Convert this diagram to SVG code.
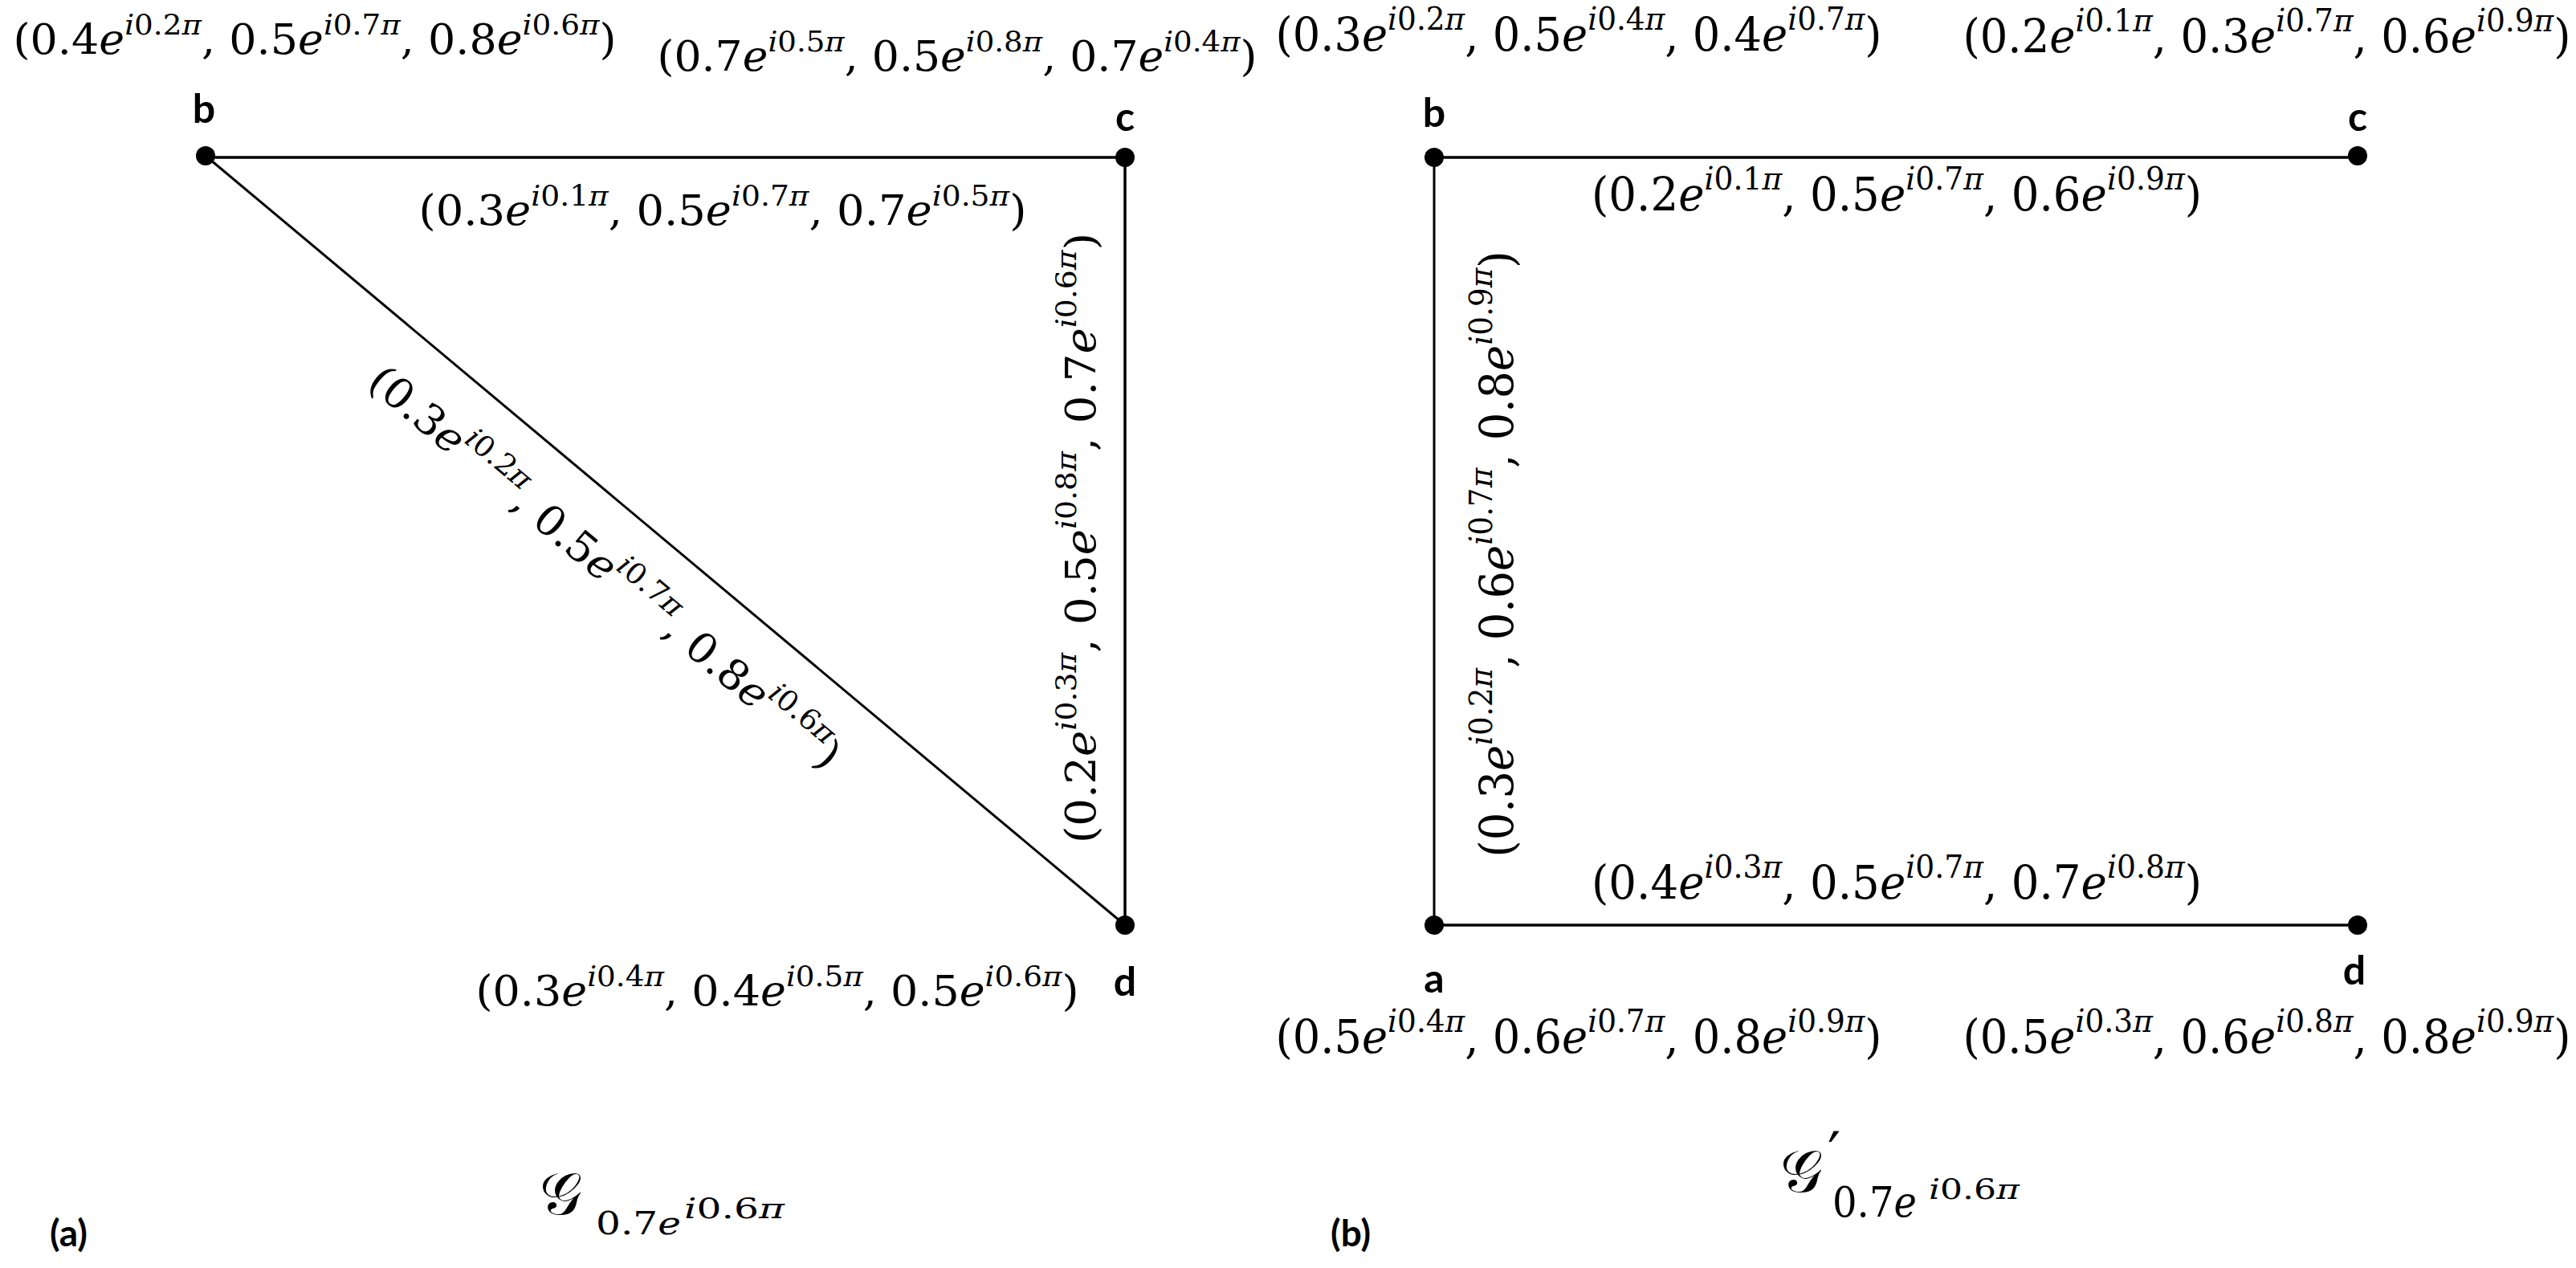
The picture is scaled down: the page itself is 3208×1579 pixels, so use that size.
<svg xmlns="http://www.w3.org/2000/svg" width="3208" height="1579" viewBox="0 0 3208 1579">
<style>
.m{font-family:"DejaVu Serif","Liberation Serif",serif;font-size:52px;fill:#000}
.r{font-size:58px}
.s{font-size:36px}
.r .s{font-size:40px}
.i{font-style:italic}
.n{font-family:Lato,"Liberation Sans",sans-serif;font-weight:bold;font-size:50px;fill:#000;text-anchor:middle}
.e{stroke:#000;stroke-width:3.5;fill:none}
.d{fill:#000}
.c{font-family:"DejaVu Serif","Liberation Serif",serif;fill:#000}
</style>
<rect width="3208" height="1579" fill="#fff"/>
<g id="connectors">
<line class="e" x1="256" y1="196" x2="1401" y2="196"/>
<line class="e" x1="1401" y1="196" x2="1401" y2="1152"/>
<line class="e" x1="256" y1="194" x2="1401" y2="1152" style="stroke-width:3"/>
<line class="e" x1="1786" y1="196" x2="2936" y2="196"/>
<line class="e" x1="1786" y1="196" x2="1786" y2="1152" style="stroke-width:3"/>
<line class="e" x1="1786" y1="1152" x2="2936" y2="1152"/>
</g>
<g id="edge-labels">
<text class="m" text-anchor="middle" x="900" y="280" textLength="757" lengthAdjust="spacingAndGlyphs">(0.3<tspan class="i">e</tspan><tspan class="s" dy="-24"><tspan class="i">i</tspan>0.1<tspan class="i">π</tspan></tspan><tspan dy="24">, 0.5</tspan><tspan class="i">e</tspan><tspan class="s" dy="-24"><tspan class="i">i</tspan>0.7<tspan class="i">π</tspan></tspan><tspan dy="24">, 0.7</tspan><tspan class="i">e</tspan><tspan class="s" dy="-24"><tspan class="i">i</tspan>0.5<tspan class="i">π</tspan></tspan><tspan dy="24">)</tspan></text>
<text class="m" text-anchor="middle" transform="translate(742,720) rotate(40)" textLength="748" lengthAdjust="spacingAndGlyphs">(0.3<tspan class="i">e</tspan><tspan class="s" dy="-24"><tspan class="i">i</tspan>0.2<tspan class="i">π</tspan></tspan><tspan dy="24">, 0.5</tspan><tspan class="i">e</tspan><tspan class="s" dy="-24"><tspan class="i">i</tspan>0.7<tspan class="i">π</tspan></tspan><tspan dy="24">, 0.8</tspan><tspan class="i">e</tspan><tspan class="s" dy="-24"><tspan class="i">i</tspan>0.6<tspan class="i">π</tspan></tspan><tspan dy="24">)</tspan></text>
<text class="m" text-anchor="middle" transform="translate(1364,670) rotate(-90)" textLength="760" lengthAdjust="spacingAndGlyphs">(0.2<tspan class="i">e</tspan><tspan class="s" dy="-24"><tspan class="i">i</tspan>0.3<tspan class="i">π</tspan></tspan><tspan dy="24">, 0.5</tspan><tspan class="i">e</tspan><tspan class="s" dy="-24"><tspan class="i">i</tspan>0.8<tspan class="i">π</tspan></tspan><tspan dy="24">, 0.7</tspan><tspan class="i">e</tspan><tspan class="s" dy="-24"><tspan class="i">i</tspan>0.6<tspan class="i">π</tspan></tspan><tspan dy="24">)</tspan></text>
<text class="m r" text-anchor="middle" x="2362" y="262" textLength="760" lengthAdjust="spacingAndGlyphs">(0.2<tspan class="i">e</tspan><tspan class="s" dy="-26"><tspan class="i">i</tspan>0.1<tspan class="i">π</tspan></tspan><tspan dy="26">, 0.5</tspan><tspan class="i">e</tspan><tspan class="s" dy="-26"><tspan class="i">i</tspan>0.7<tspan class="i">π</tspan></tspan><tspan dy="26">, 0.6</tspan><tspan class="i">e</tspan><tspan class="s" dy="-26"><tspan class="i">i</tspan>0.9<tspan class="i">π</tspan></tspan><tspan dy="26">)</tspan></text>
<text class="m r" text-anchor="middle" transform="translate(1884,690) rotate(-90)" textLength="755" lengthAdjust="spacingAndGlyphs">(0.3<tspan class="i">e</tspan><tspan class="s" dy="-26"><tspan class="i">i</tspan>0.2<tspan class="i">π</tspan></tspan><tspan dy="26">, 0.6</tspan><tspan class="i">e</tspan><tspan class="s" dy="-26"><tspan class="i">i</tspan>0.7<tspan class="i">π</tspan></tspan><tspan dy="26">, 0.8</tspan><tspan class="i">e</tspan><tspan class="s" dy="-26"><tspan class="i">i</tspan>0.9<tspan class="i">π</tspan></tspan><tspan dy="26">)</tspan></text>
<text class="m r" text-anchor="middle" x="2362" y="1119" textLength="760" lengthAdjust="spacingAndGlyphs">(0.4<tspan class="i">e</tspan><tspan class="s" dy="-26"><tspan class="i">i</tspan>0.3<tspan class="i">π</tspan></tspan><tspan dy="26">, 0.5</tspan><tspan class="i">e</tspan><tspan class="s" dy="-26"><tspan class="i">i</tspan>0.7<tspan class="i">π</tspan></tspan><tspan dy="26">, 0.7</tspan><tspan class="i">e</tspan><tspan class="s" dy="-26"><tspan class="i">i</tspan>0.8<tspan class="i">π</tspan></tspan><tspan dy="26">)</tspan></text>
</g>
<g id="node-b-left">
<circle class="d" cx="256" cy="194" r="12"/>
<text class="n" x="254" y="153">b</text>
<text class="m" text-anchor="middle" x="392" y="67" textLength="751" lengthAdjust="spacingAndGlyphs">(0.4<tspan class="i">e</tspan><tspan class="s" dy="-24"><tspan class="i">i</tspan>0.2<tspan class="i">π</tspan></tspan><tspan dy="24">, 0.5</tspan><tspan class="i">e</tspan><tspan class="s" dy="-24"><tspan class="i">i</tspan>0.7<tspan class="i">π</tspan></tspan><tspan dy="24">, 0.8</tspan><tspan class="i">e</tspan><tspan class="s" dy="-24"><tspan class="i">i</tspan>0.6<tspan class="i">π</tspan></tspan><tspan dy="24">)</tspan></text>
</g>
<g id="node-c-left">
<circle class="d" cx="1401" cy="196" r="12"/>
<text class="n" x="1401" y="163">c</text>
<text class="m" text-anchor="middle" x="1192" y="88" textLength="747" lengthAdjust="spacingAndGlyphs">(0.7<tspan class="i">e</tspan><tspan class="s" dy="-24"><tspan class="i">i</tspan>0.5<tspan class="i">π</tspan></tspan><tspan dy="24">, 0.5</tspan><tspan class="i">e</tspan><tspan class="s" dy="-24"><tspan class="i">i</tspan>0.8<tspan class="i">π</tspan></tspan><tspan dy="24">, 0.7</tspan><tspan class="i">e</tspan><tspan class="s" dy="-24"><tspan class="i">i</tspan>0.4<tspan class="i">π</tspan></tspan><tspan dy="24">)</tspan></text>
</g>
<g id="node-d-left">
<circle class="d" cx="1401" cy="1152" r="12"/>
<text class="n" x="1401" y="1240">d</text>
<text class="m" text-anchor="middle" x="968" y="1252" textLength="751" lengthAdjust="spacingAndGlyphs">(0.3<tspan class="i">e</tspan><tspan class="s" dy="-24"><tspan class="i">i</tspan>0.4<tspan class="i">π</tspan></tspan><tspan dy="24">, 0.4</tspan><tspan class="i">e</tspan><tspan class="s" dy="-24"><tspan class="i">i</tspan>0.5<tspan class="i">π</tspan></tspan><tspan dy="24">, 0.5</tspan><tspan class="i">e</tspan><tspan class="s" dy="-24"><tspan class="i">i</tspan>0.6<tspan class="i">π</tspan></tspan><tspan dy="24">)</tspan></text>
</g>
<g id="node-b-right">
<circle class="d" cx="1786" cy="196" r="12"/>
<text class="n" x="1786" y="158">b</text>
<text class="m r" text-anchor="middle" x="1966" y="63" textLength="755" lengthAdjust="spacingAndGlyphs">(0.3<tspan class="i">e</tspan><tspan class="s" dy="-26"><tspan class="i">i</tspan>0.2<tspan class="i">π</tspan></tspan><tspan dy="26">, 0.5</tspan><tspan class="i">e</tspan><tspan class="s" dy="-26"><tspan class="i">i</tspan>0.4<tspan class="i">π</tspan></tspan><tspan dy="26">, 0.4</tspan><tspan class="i">e</tspan><tspan class="s" dy="-26"><tspan class="i">i</tspan>0.7<tspan class="i">π</tspan></tspan><tspan dy="26">)</tspan></text>
</g>
<g id="node-c-right">
<circle class="d" cx="2936" cy="194" r="12"/>
<text class="n" x="2936" y="163">c</text>
<text class="m r" text-anchor="middle" x="2823" y="65" textLength="757" lengthAdjust="spacingAndGlyphs">(0.2<tspan class="i">e</tspan><tspan class="s" dy="-26"><tspan class="i">i</tspan>0.1<tspan class="i">π</tspan></tspan><tspan dy="26">, 0.3</tspan><tspan class="i">e</tspan><tspan class="s" dy="-26"><tspan class="i">i</tspan>0.7<tspan class="i">π</tspan></tspan><tspan dy="26">, 0.6</tspan><tspan class="i">e</tspan><tspan class="s" dy="-26"><tspan class="i">i</tspan>0.9<tspan class="i">π</tspan></tspan><tspan dy="26">)</tspan></text>
</g>
<g id="node-a-right">
<circle class="d" cx="1786" cy="1152" r="12"/>
<text class="n" x="1786" y="1236">a</text>
<text class="m r" text-anchor="middle" x="1966" y="1311" textLength="755" lengthAdjust="spacingAndGlyphs">(0.5<tspan class="i">e</tspan><tspan class="s" dy="-26"><tspan class="i">i</tspan>0.4<tspan class="i">π</tspan></tspan><tspan dy="26">, 0.6</tspan><tspan class="i">e</tspan><tspan class="s" dy="-26"><tspan class="i">i</tspan>0.7<tspan class="i">π</tspan></tspan><tspan dy="26">, 0.8</tspan><tspan class="i">e</tspan><tspan class="s" dy="-26"><tspan class="i">i</tspan>0.9<tspan class="i">π</tspan></tspan><tspan dy="26">)</tspan></text>
</g>
<g id="node-d-right">
<circle class="d" cx="2936" cy="1152" r="12"/>
<text class="n" x="2932" y="1226">d</text>
<text class="m r" text-anchor="middle" x="2823" y="1311" textLength="757" lengthAdjust="spacingAndGlyphs">(0.5<tspan class="i">e</tspan><tspan class="s" dy="-26"><tspan class="i">i</tspan>0.3<tspan class="i">π</tspan></tspan><tspan dy="26">, 0.6</tspan><tspan class="i">e</tspan><tspan class="s" dy="-26"><tspan class="i">i</tspan>0.8<tspan class="i">π</tspan></tspan><tspan dy="26">, 0.8</tspan><tspan class="i">e</tspan><tspan class="s" dy="-26"><tspan class="i">i</tspan>0.9<tspan class="i">π</tspan></tspan><tspan dy="26">)</tspan></text>
</g>
<g id="captions">
<text class="n" x="62" y="1552" style="text-anchor:start;font-size:46px">(a)</text>
<text class="c" x="672" y="1512" style="font-size:74px">𝒢</text>
<text class="c" x="742" y="1537" style="font-size:40px" textLength="106" lengthAdjust="spacingAndGlyphs">0.7<tspan class="i">e</tspan></text>
<text class="c" x="852" y="1517" style="font-size:36px" textLength="125" lengthAdjust="spacingAndGlyphs"><tspan class="i">i</tspan>0.6<tspan class="i">π</tspan></text>
<text class="n" x="1657" y="1552" style="text-anchor:start;font-size:46px">(b)</text>
<text class="c" x="2217" y="1484" style="font-size:74px">𝒢</text>
<text class="c" x="2276" y="1462" style="font-size:72px">′</text>
<text class="c" x="2282" y="1515" style="font-size:52px" textLength="105" lengthAdjust="spacingAndGlyphs">0.7<tspan class="i">e</tspan></text>
<text class="c" x="2402" y="1493" style="font-size:36px" textLength="113" lengthAdjust="spacingAndGlyphs"><tspan class="i">i</tspan>0.6<tspan class="i">π</tspan></text>
</g>
</svg>
